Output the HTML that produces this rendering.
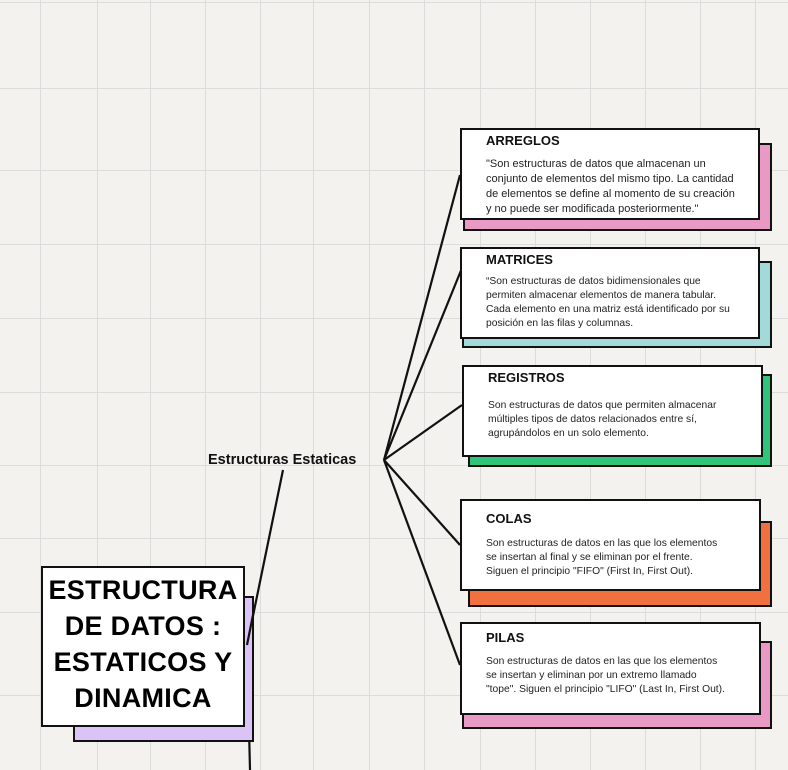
<!DOCTYPE html>
<html><head><meta charset="utf-8"><style>
body{margin:0;width:788px;height:770px;overflow:hidden;position:relative;background:#f3f2ef;font-family:"Liberation Sans",sans-serif}
.g{position:absolute;background:#dcdcda}
.sh{position:absolute;border:2px solid #111;box-sizing:border-box}
.bx{position:absolute;background:#fff;border:2px solid #111;box-sizing:border-box}
.h{position:absolute;left:24px;top:3px;font-weight:bold;font-size:13px;color:#111}
.t{position:absolute;left:24px;font-size:11px;line-height:15px;color:#222;white-space:nowrap}
.title{position:absolute;left:41px;top:566px;width:204px;height:161px;background:#fff;border:2px solid #111;box-sizing:border-box;text-align:center;font-weight:bold;font-size:27px;line-height:36px;padding-top:4px;letter-spacing:0.3px;color:#000}
</style></head><body>
<div class="g" style="left:40px;top:0;width:1px;height:770px"></div>
<div class="g" style="left:97px;top:0;width:1px;height:770px"></div>
<div class="g" style="left:150px;top:0;width:1px;height:770px"></div>
<div class="g" style="left:205px;top:0;width:1px;height:770px"></div>
<div class="g" style="left:260px;top:0;width:1px;height:770px"></div>
<div class="g" style="left:313px;top:0;width:1px;height:770px"></div>
<div class="g" style="left:369px;top:0;width:1px;height:770px"></div>
<div class="g" style="left:424px;top:0;width:1px;height:770px"></div>
<div class="g" style="left:480px;top:0;width:1px;height:770px"></div>
<div class="g" style="left:535px;top:0;width:1px;height:770px"></div>
<div class="g" style="left:590px;top:0;width:1px;height:770px"></div>
<div class="g" style="left:645px;top:0;width:1px;height:770px"></div>
<div class="g" style="left:700px;top:0;width:1px;height:770px"></div>
<div class="g" style="left:755px;top:0;width:1px;height:770px"></div>
<div class="g" style="left:0;top:2px;width:788px;height:1px"></div>
<div class="g" style="left:0;top:88px;width:788px;height:1px"></div>
<div class="g" style="left:0;top:170px;width:788px;height:1px"></div>
<div class="g" style="left:0;top:244px;width:788px;height:1px"></div>
<div class="g" style="left:0;top:318px;width:788px;height:1px"></div>
<div class="g" style="left:0;top:392px;width:788px;height:1px"></div>
<div class="g" style="left:0;top:465px;width:788px;height:1px"></div>
<div class="g" style="left:0;top:538px;width:788px;height:1px"></div>
<div class="g" style="left:0;top:612px;width:788px;height:1px"></div>
<div class="g" style="left:0;top:695px;width:788px;height:1px"></div>

<svg style="position:absolute;left:0;top:0" width="788" height="770">
<g stroke="#111" stroke-width="2.2" fill="none">
<line x1="384" y1="460" x2="460" y2="175"/>
<line x1="384" y1="460" x2="462" y2="268"/>
<line x1="384" y1="460" x2="462" y2="405"/>
<line x1="384" y1="460" x2="460" y2="545"/>
<line x1="384" y1="460" x2="460" y2="665"/>
<polyline points="283,470 247,645 250,770"/>
</g></svg>

<div style="position:absolute;left:208px;top:452px;font-weight:bold;font-size:14.5px;color:#111">Estructuras Estaticas</div>

<div class="sh" style="left:73px;top:596px;width:181px;height:146px;background:#dcc3f7"></div>
<div class="title">ESTRUCTURA<br>DE DATOS :<br>ESTATICOS Y<br>DINAMICA</div>
<svg style="position:absolute;left:0;top:0" width="788" height="770"><line x1="254" y1="610" x2="247" y2="645" stroke="#111" stroke-width="2.2"/></svg>

<div class="sh" style="left:463px;top:143px;width:309px;height:88px;background:#e99ac4"></div>
<div class="bx" style="left:460px;top:128px;width:300px;height:92px">
<div class="h">ARREGLOS</div>
<div class="t" style="top:27px">"Son estructuras de datos que almacenan un<br>conjunto de elementos del mismo tipo. La cantidad<br>de elementos se define al momento de su creación<br>y no puede ser modificada posteriormente."</div></div>

<div class="sh" style="left:462px;top:261px;width:310px;height:87px;background:#a3dad9"></div>
<div class="bx" style="left:460px;top:247px;width:300px;height:92px">
<div class="h">MATRICES</div>
<div class="t" style="top:26px;font-size:10.3px;line-height:14px"> “Son estructuras de datos bidimensionales que<br>permiten almacenar elementos de manera tabular.<br>Cada elemento en una matriz está identificado por su<br>posición en las filas y columnas.</div></div>

<div class="sh" style="left:468px;top:374px;width:304px;height:93px;background:#2fc47a"></div>
<div class="bx" style="left:462px;top:365px;width:301px;height:92px">
<div class="h">REGISTROS</div>
<div class="t" style="top:32px;font-size:10.3px;line-height:14px">Son estructuras de datos que permiten almacenar<br>múltiples tipos de datos relacionados entre sí,<br>agrupándolos en un solo elemento.</div></div>

<div class="sh" style="left:468px;top:521px;width:304px;height:86px;background:#f07040"></div>
<div class="bx" style="left:460px;top:499px;width:301px;height:92px">
<div class="h" style="top:10px">COLAS</div>
<div class="t" style="top:36px;font-size:10.3px;line-height:14px">Son estructuras de datos en las que los elementos<br>se insertan al final y se eliminan por el frente.<br>Siguen el principio "FIFO" (First In, First Out).</div></div>

<div class="sh" style="left:462px;top:641px;width:310px;height:88px;background:#e99ac4"></div>
<div class="bx" style="left:460px;top:622px;width:301px;height:93px">
<div class="h" style="top:6px">PILAS</div>
<div class="t" style="top:31px;font-size:10.3px;line-height:14px">Son estructuras de datos en las que los elementos<br>se insertan y eliminan por un extremo llamado<br>"tope". Siguen el principio "LIFO" (Last In, First Out).</div></div>
</body></html>
